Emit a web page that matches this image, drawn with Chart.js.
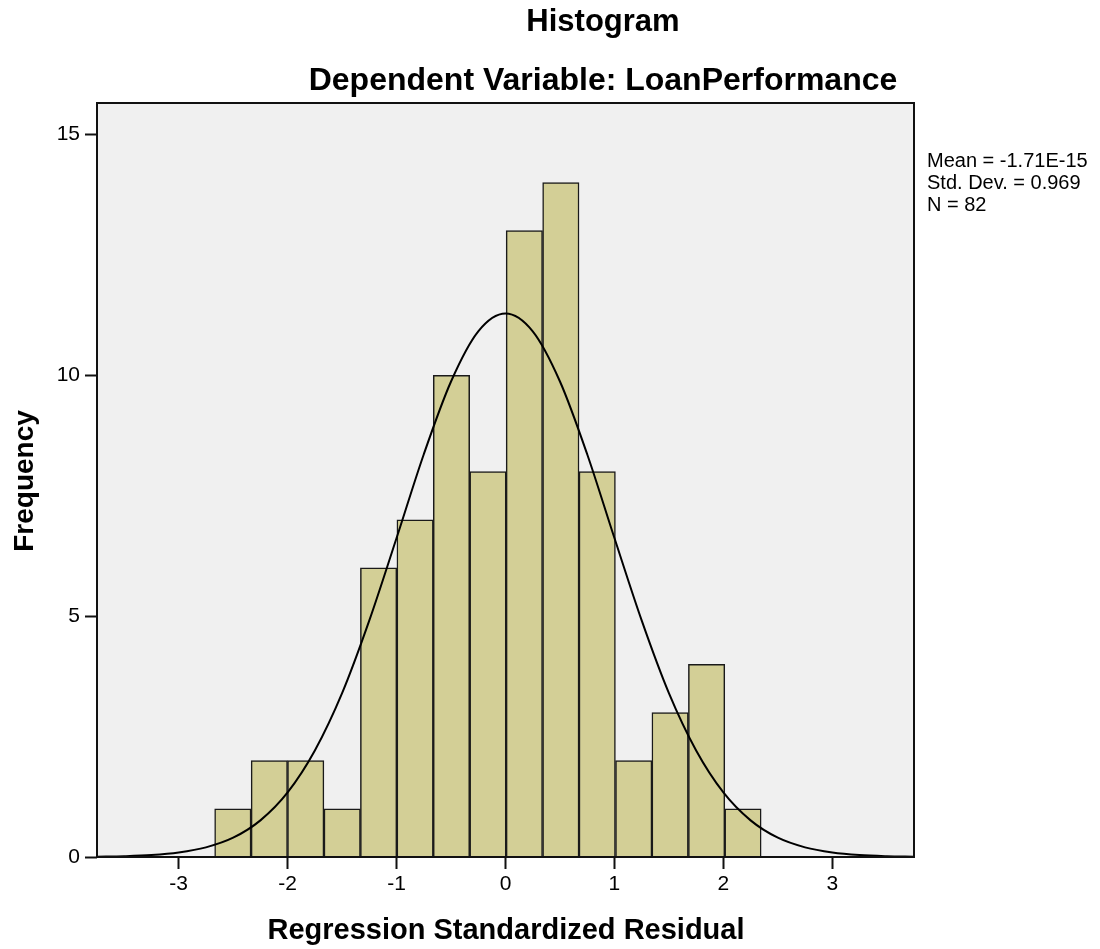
<!DOCTYPE html>
<html>
<head>
<meta charset="utf-8">
<script src="https://cdn.jsdelivr.net/npm/chart.js@4.4.1/dist/chart.umd.min.js"></script>
<style>
  html, body { margin: 0; padding: 0; background: #fff; }
</style>
</head>
<body>
<canvas id="histChart" width="1100" height="949"></canvas>
<script>
// bin centres (regression standardized residual) and counts
const binCenters = [-2.503, -2.168, -1.834, -1.499, -1.165, -0.830, -0.496, -0.161, 0.173, 0.508, 0.842, 1.177, 1.511, 1.846, 2.180];
const binCounts = [1, 2, 2, 1, 6, 7, 10, 8, 13, 14, 8, 2, 3, 4, 1];

// normal curve
const curveX = [-3.75, -3.5, -3.25, -3, -2.75, -2.5, -2.25, -2, -1.75, -1.5, -1.25, -1, -0.75, -0.5, -0.25, 0, 0.25, 0.5, 0.75, 1, 1.25, 1.5, 1.75, 2, 2.25, 2.5, 2.75, 3, 3.25, 3.5, 3.75];
const curveY = [0.006, 0.017, 0.041, 0.094, 0.20, 0.40, 0.76, 1.34, 2.21, 3.40, 4.91, 6.62, 8.36, 9.87, 10.91, 11.28, 10.91, 9.87, 8.36, 6.62, 4.91, 3.40, 2.21, 1.34, 0.76, 0.40, 0.20, 0.094, 0.041, 0.017, 0.006];

const xTicks = [-3, -2, -1, 0, 1, 2, 3];
const yTicks = [0, 5, 10, 15];

const statsLines = ['Mean = -1.71E-15', 'Std. Dev. = 0.969', 'N = 82'];
const mainTitle = 'Histogram';
const subTitle = 'Dependent Variable: LoanPerformance';
const xTitle = 'Regression Standardized Residual';
const yTitle = 'Frequency';

const FONT = '"Liberation Sans", Arial, sans-serif';

// grey plot background + frame + texts
const decoPlugin = {
    id: 'deco',
    beforeDraw(chart) {
        const { ctx, chartArea: a } = chart;
        ctx.save();
        ctx.fillStyle = '#f0f0f0';
        ctx.fillRect(a.left, a.top, a.right - a.left, a.bottom - a.top);
        ctx.restore();
    },
    afterDraw(chart) {
        const { ctx, chartArea: a } = chart;
        ctx.save();
        ctx.strokeStyle = '#111';
        ctx.lineWidth = 2;
        ctx.strokeRect(a.left, a.top, a.right - a.left, a.bottom - a.top);

        ctx.fillStyle = '#000';
        ctx.textAlign = 'center';
        ctx.textBaseline = 'middle';
        ctx.font = 'bold 31px ' + FONT;
        ctx.fillText(mainTitle, 603, 22);
        ctx.font = 'bold 32px ' + FONT;
        ctx.fillText(subTitle, 603, 81);
        ctx.font = 'bold 29px ' + FONT;
        ctx.fillText(xTitle, 506, 931);

        ctx.save();
        ctx.translate(25, 481);
        ctx.rotate(-Math.PI / 2);
        ctx.font = 'bold 28px ' + FONT;
        ctx.fillText(yTitle, 0, 0);
        ctx.restore();

        ctx.textAlign = 'left';
        ctx.font = '20px ' + FONT;
        statsLines.forEach((s, i) => {
            ctx.fillText(s, 927, 161 + i * 22);
        });
        ctx.restore();
    }
};

const tickGrid = { display: true, offset: false, drawOnChartArea: false, drawTicks: true, tickLength: 12, tickColor: '#111', tickWidth: 2 };

new Chart(document.getElementById('histChart'), {
    data: {
        datasets: [{
            type: 'line',
            data: curveX.map((x, i) => ({ x: x, y: curveY[i] })),
            borderColor: '#000',
            borderWidth: 2,
            pointRadius: 0,
            cubicInterpolationMode: 'monotone',
            fill: false,
            order: 0
        }, {
            type: 'bar',
            data: binCenters.map((x, i) => ({ x: x, y: binCounts[i] })),
            backgroundColor: '#d3cf96',
            borderColor: '#1a1a1a',
            borderWidth: 1.5,
            barPercentage: 1,
            categoryPercentage: 1,
            order: 1
        }]
    },
    options: {
        responsive: false,
        animation: false,
        devicePixelRatio: 1,
        layout: { padding: { top: 103, right: 186, left: 0, bottom: 0 } },
        plugins: { legend: { display: false }, tooltip: { enabled: false } },
        scales: {
            x: {
                type: 'linear',
                offset: false,
                min: -3.75,
                max: 3.75,
                afterBuildTicks: (axis) => { axis.ticks = xTicks.map(v => ({ value: v })); },
                afterFit: (axis) => { axis.height = 92; },
                grid: tickGrid,
                border: { display: false },
                ticks: { color: '#000', font: { family: FONT, size: 21 }, padding: 3, maxRotation: 0 }
            },
            y: {
                min: 0,
                max: 15.65,
                afterBuildTicks: (axis) => { axis.ticks = yTicks.map(v => ({ value: v })); },
                afterFit: (axis) => { axis.width = 97; },
                grid: tickGrid,
                border: { display: false },
                ticks: { color: '#000', font: { family: FONT, size: 21 }, padding: 5 }
            }
        }
    },
    plugins: [decoPlugin]
});
</script>
</body>
</html>
